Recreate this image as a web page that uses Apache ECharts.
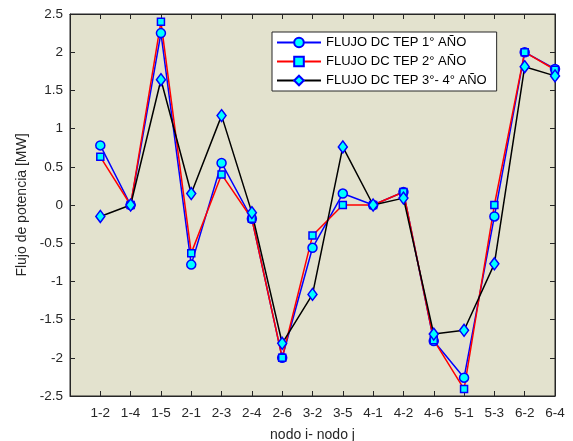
<!DOCTYPE html>
<html>
<head>
<meta charset="utf-8">
<script src="https://cdn.jsdelivr.net/npm/echarts@6/dist/echarts.min.js"></script>
<style>
  html, body { margin: 0; padding: 0; background: #fff; }
  #chart { width: 573px; height: 441px; }
</style>
</head>
<body>
<div id="chart"></div>
<script>
// ramas nodo i - nodo j
var ramas = ["1-2", "1-4", "1-5", "2-1", "2-3", "2-4", "2-6", "3-2", "3-5", "4-1", "4-2", "4-6", "5-1", "5-3", "6-2", "6-4"];
// flujos en MW
var anio1 = [0.78, 0, 2.25, -0.78, 0.55, -0.18, -2.0, -0.56, 0.15, 0, 0.17, -1.78, -2.26, -0.15, 2.0, 1.78];
var anio2 = [0.63, 0, 2.40, -0.63, 0.40, -0.18, -2.0, -0.40, 0, 0, 0.17, -1.77, -2.41, 0, 2.0, 1.77];
var anio34 = [-0.15, 0, 1.64, 0.15, 1.17, -0.10, -1.81, -1.17, 0.76, 0, 0.09, -1.69, -1.64, -0.77, 1.81, 1.69];
var yTicks = [-2.5, 2.5, 0.5];

var fuente = "'Liberation Sans', Arial, sans-serif";
var gris = "#262626";

function puntos(valores) {
  return valores.map(function (v, i) { return [i + 1, v]; });
}

var chart = echarts.init(document.getElementById("chart"));

var ejeX = {
  type: "value", min: 0, max: ramas.length, interval: 1,
  axisLine: { show: true, onZero: false, lineStyle: { color: gris, width: 1 } },
  axisTick: { show: true, inside: true, length: 5, lineStyle: { color: gris } },
  splitLine: { show: false }
};
var ejeY = {
  type: "value", min: yTicks[0], max: yTicks[1], interval: yTicks[2],
  axisLine: { show: true, onZero: false, lineStyle: { color: gris, width: 1 } },
  axisTick: { show: true, inside: true, length: 5, lineStyle: { color: gris } },
  splitLine: { show: false }
};

var option = {
  animation: false,
  textStyle: { fontFamily: fuente },
  grid: {
    left: 70, top: 14, right: 18, bottom: 45,
    outerBoundsMode: "none", containLabel: false,
    show: true, backgroundColor: "#E3E2CE", borderColor: gris, borderWidth: 1
  },
  legend: {
    orient: "vertical",
    left: 272, top: 32,
    backgroundColor: "#fff",
    borderColor: gris, borderWidth: 1,
    padding: [4, 10, 4, 4],
    itemWidth: 44, itemHeight: 12, itemGap: 6,
    textStyle: { fontFamily: fuente, fontSize: 13, color: "#000" },
    data: ["FLUJO DC TEP 1° AÑO", "FLUJO DC TEP 2° AÑO", "FLUJO DC TEP 3°- 4° AÑO"]
  },
  xAxis: [
    Object.assign({}, ejeX, {
      position: "bottom",
      name: "nodo i- nodo j", nameLocation: "middle", nameGap: 32,
      nameTextStyle: { fontFamily: fuente, fontSize: 14, color: gris },
      axisLabel: {
        fontFamily: fuente, fontSize: 13.5, color: gris, margin: 10,
        formatter: function (v) { return ramas[v - 1] || ""; }
      }
    }),
    Object.assign({}, ejeX, { position: "top", axisLabel: { show: false } })
  ],
  yAxis: [
    Object.assign({}, ejeY, {
      position: "left",
      name: "Flujo de potencia [MW]", nameLocation: "middle", nameGap: 35,
      nameTextStyle: { fontFamily: fuente, fontSize: 14, color: gris },
      axisLabel: { fontFamily: fuente, fontSize: 13.5, color: gris, margin: 7 }
    }),
    Object.assign({}, ejeY, { position: "right", axisLabel: { show: false } })
  ],
  series: [
    {
      name: "FLUJO DC TEP 1° AÑO", type: "line", data: puntos(anio1),
      symbol: "circle", symbolSize: 9,
      lineStyle: { color: "#0000FF", width: 1.5 },
      itemStyle: { color: "#00FFFF", borderColor: "#0000FF", borderWidth: 1.5 }
    },
    {
      name: "FLUJO DC TEP 2° AÑO", type: "line", data: puntos(anio2),
      symbol: "rect", symbolSize: 7,
      lineStyle: { color: "#FF0000", width: 1.5 },
      itemStyle: { color: "#00FFFF", borderColor: "#0000FF", borderWidth: 1.5 }
    },
    {
      name: "FLUJO DC TEP 3°- 4° AÑO", type: "line", data: puntos(anio34),
      symbol: "diamond", symbolSize: [9, 12],
      lineStyle: { color: "#000000", width: 1.5 },
      itemStyle: { color: "#00FFFF", borderColor: "#0000FF", borderWidth: 1.5 }
    }
  ]
};

chart.setOption(option);
</script>
</body>
</html>
